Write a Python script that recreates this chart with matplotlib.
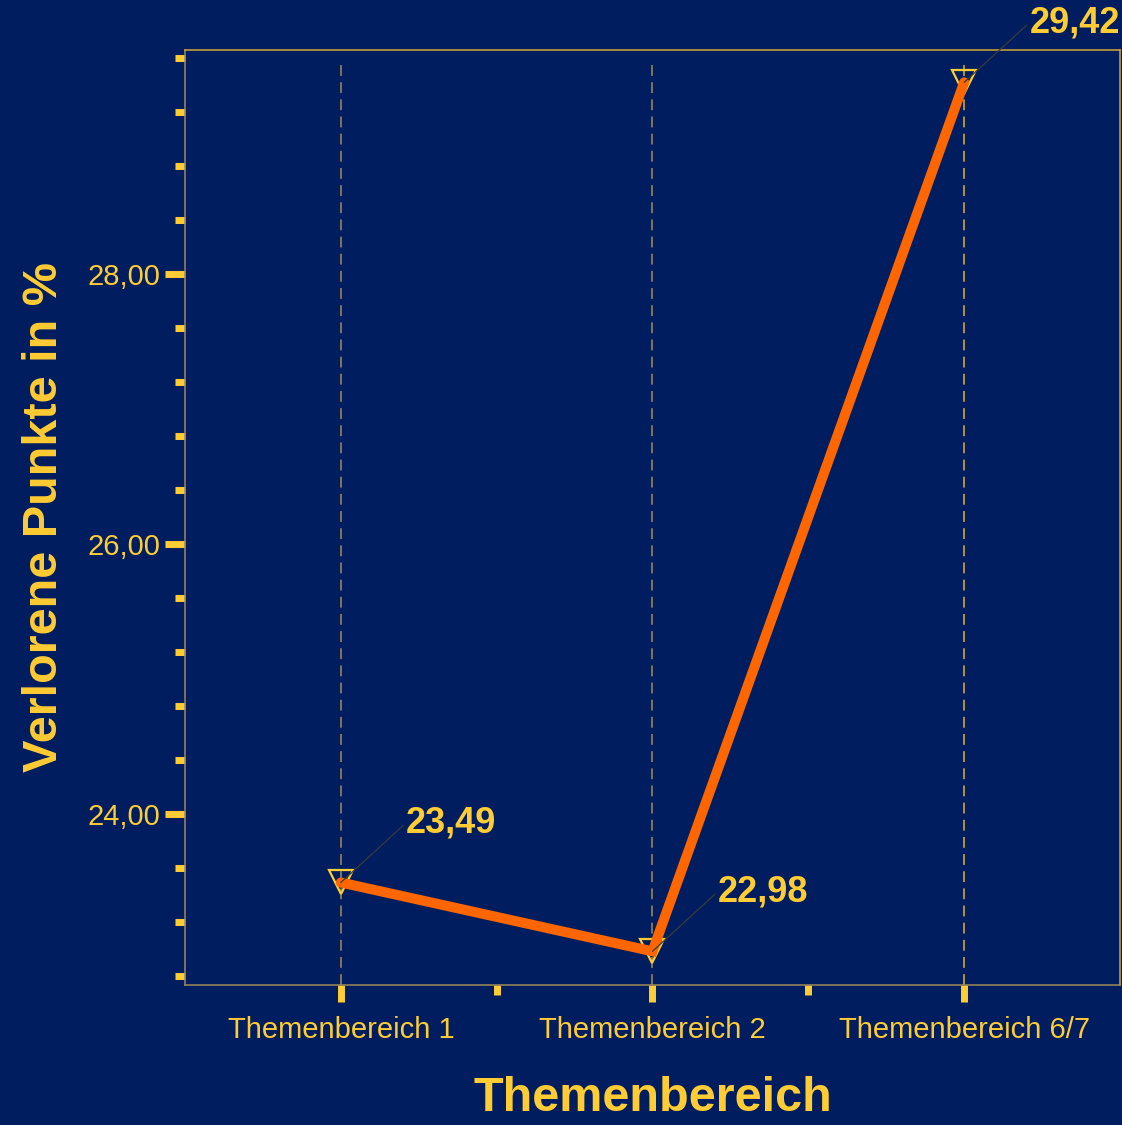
import matplotlib.pyplot as plt
from matplotlib.ticker import MultipleLocator, FixedLocator, FuncFormatter

plt.rcParams['font.family'] = ['Liberation Sans', 'DejaVu Sans']

# Lost points per topic area
themen = ['Themenbereich 1', 'Themenbereich 2', 'Themenbereich 6/7']
verloren = [23.49, 22.98, 29.42]

navy = '#001e5f'
gelb = '#ffcc33'
orange = '#ff6600'

fig = plt.figure(figsize=(11.22, 11.25), dpi=100, facecolor=navy)
ax = fig.add_axes([0.1649, 0.1244, 0.8333, 0.8312], facecolor=navy)

x = list(range(len(themen)))

# dashed guide lines at each category
guide_colors = ['#8c7c58', '#8c7c58', '#c39b34']
for xi, c in zip(x, guide_colors):
    ax.axvline(xi, ymin=0, ymax=0.986, color=c, lw=1.3,
               dashes=(6, 3.5), zorder=1)

ax.plot(x, verloren, linestyle='none', marker='v', markersize=17.5,
        markerfacecolor='none', markeredgecolor=gelb, markeredgewidth=1.6,
        zorder=2)
ax.plot(x, verloren, color=orange, lw=7.2, solid_capstyle='round',
        solid_joinstyle='miter', zorder=3)

for xi, v in zip(x, verloren):
    ax.annotate(f'{v:.2f}'.replace('.', ','), xy=(xi, v),
                xytext=(47, 43), textcoords='offset points',
                ha='left', va='center', fontsize=26, fontweight='bold',
                color=gelb, annotation_clip=False, zorder=4,
                arrowprops=dict(arrowstyle='-', color='#3a3a3a', lw=0.9,
                                relpos=(0, 0.5), shrinkA=0, shrinkB=0))

ax.set_xlim(-0.5, 2.5)
ax.set_ylim(22.73, 29.66)

ax.set_xticks(x)
ax.set_xticklabels(themen)
ax.xaxis.set_minor_locator(FixedLocator([0.5, 1.5]))
ax.yaxis.set_major_locator(MultipleLocator(2))
ax.yaxis.set_minor_locator(MultipleLocator(0.4))
ax.yaxis.set_major_formatter(FuncFormatter(lambda v, p: f'{v:.2f}'.replace('.', ',')))

ax.tick_params(axis='x', which='major', length=12, width=5, color=gelb,
               labelcolor=gelb, labelsize=21, pad=10)
ax.tick_params(axis='x', which='minor', length=7, width=5, color=gelb)
ax.tick_params(axis='y', which='major', length=14.5, width=5, color=gelb,
               labelcolor=gelb, labelsize=21, pad=3)
ax.tick_params(axis='y', which='minor', length=7, width=5, color=gelb)

ax.spines['top'].set_color('#d4a530')
ax.spines['right'].set_color('#d4a530')
ax.spines['left'].set_color('#a08a58')
ax.spines['bottom'].set_color('#a08a58')
for s in ax.spines.values():
    s.set_linewidth(1.1)

ax.set_xlabel('Themenbereich', fontsize=35, fontweight='bold', color=gelb,
              labelpad=23)
ax.set_ylabel('Verlorene Punkte in %', fontsize=35, fontweight='bold',
              color=gelb, labelpad=15)

fig.savefig('out.png', dpi=100, facecolor=navy)
